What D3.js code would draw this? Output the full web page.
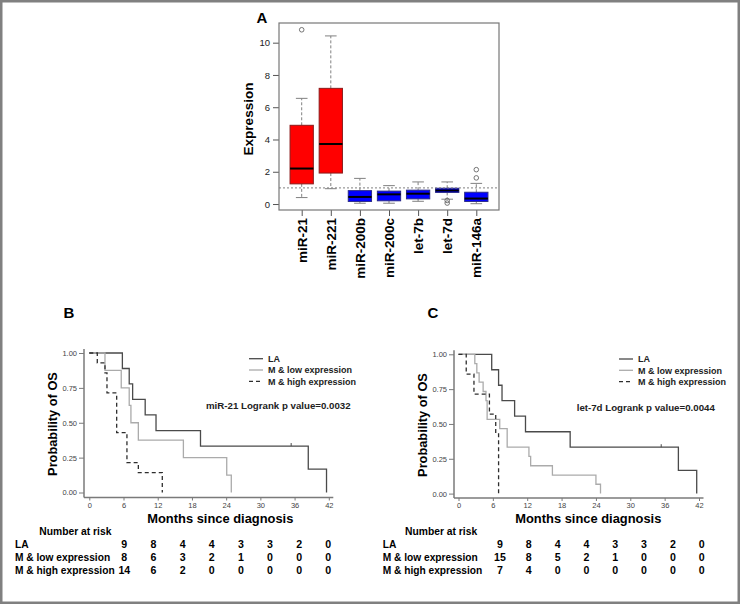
<!DOCTYPE html>
<html><head><meta charset="utf-8">
<script src="https://cdn.jsdelivr.net/npm/d3@7"></script>
<style>
body{margin:0;background:#fff}
svg{display:block}
text{font-family:"Liberation Sans",Arial,Helvetica,sans-serif}
</style>
</head><body>
<svg id="chart" width="740" height="604"></svg>
<script>
// ---------- Panel A data (box plot) ----------
const boxCategories = ["miR-21","miR-221","miR-200b","miR-200c","let-7b","let-7d","miR-146a"];
const boxGroup      = ["up","up","down","down","down","down","down"];
const boxLow    = [0.40, 0.95, 0.05, 0.05, 0.17, 0.30, 0.02];
const boxQ1     = [1.25, 1.92, 0.16, 0.20, 0.32, 0.72, 0.16];
const boxMedian = [2.20, 3.72, 0.44, 0.60, 0.64, 0.84, 0.34];
const boxQ3     = [4.88, 7.17, 0.83, 0.80, 0.86, 0.98, 0.73];
const boxHigh   = [6.55, 10.42, 1.59, 1.14, 1.37, 1.37, 1.28];
const boxOutliers = [[10.8],[],[],[],[],[0.22,0.06],[1.62,2.13]];
const boxYTicks = [0,2,4,6,8,10];
const refLine = 1;

// ---------- Panels B & C data (Kaplan-Meier) ----------
const kmXTicks = [0,6,12,18,24,30,36,42];
const kmYTicks = [0,0.25,0.5,0.75,1];
const seriesNames = ["LA","M & low expression","M & high expression"];

const laTimes = [5.8, 7.0, 7.6, 9.8, 11.7, 19.5, 38.4, 41.6];
const laSurv  = [0.889, 0.778, 0.667, 0.556, 0.444, 0.333, 0.167, 0];
const laCensor = [35.4];
const laCensorSurv = [0.333];

const bLowTimes  = [2.75, 5.6, 7.0, 7.3, 8.6, 16.5, 24.1, 24.9];
const bLowSurv   = [0.875, 0.75, 0.625, 0.5, 0.375, 0.25, 0.125, 0];
const bHighTimes = [1.4, 2.75, 3.1, 4.8, 6.6, 8.6, 12.8];
const bHighSurv  = [0.929, 0.857, 0.714, 0.429, 0.214, 0.143, 0];

const cLowTimes  = [2.85, 3.2, 3.6, 4.3, 4.8, 5.0, 7.2, 8.5, 12.3, 12.6, 16.4, 24.0, 24.8];
const cLowSurv   = [0.933, 0.867, 0.8, 0.733, 0.667, 0.533, 0.467, 0.333, 0.267, 0.2, 0.133, 0.067, 0];
const cHighTimes = [1.35, 2.7, 5.4, 6.5, 7.0];
const cHighSurv  = [0.857, 0.714, 0.571, 0.429, 0];

const bAnnotation = "miR-21 Logrank p value=0.0032";
const cAnnotation = "let-7d Logrank p value=0.0044";

const riskTitle = "Number at risk";
const bRisk = [[9,8,4,4,3,3,2,0],[8,6,3,2,1,0,0,0],[14,6,2,0,0,0,0,0]];
const cRisk = [[9,8,4,4,3,3,2,0],[15,8,5,2,1,0,0,0],[7,4,0,0,0,0,0,0]];

// ---------- drawing ----------
const svg = d3.select("#chart");
svg.append("rect").attr("x",1.25).attr("y",1.25).attr("width",737.5).attr("height",601.5)
  .attr("fill","#fff").attr("stroke","#808080").attr("stroke-width",2.5);

// ===== Panel A =====
(function(){
  const g = svg.append("g");
  const x = d3.scalePoint().domain(boxCategories).range([279,499]).padding(0.78);
  const y = d3.scaleLinear().domain([-0.37, 11.22]).range([210, 23]);
  const bw = x.step()*0.8, cw = bw/2;

  // y axis
  const ya = g.append("g").attr("transform","translate(279,0)")
    .call(d3.axisLeft(y).tickValues(boxYTicks).tickSize(6).tickPadding(3).tickFormat(d3.format("d")));
  ya.select(".domain").remove();
  ya.selectAll("line").attr("stroke","#555");
  ya.selectAll("text").attr("font-size","9.5px").attr("fill","#222");

  // x axis ticks + labels
  const xa = g.append("g").attr("transform","translate(0,210)")
    .call(d3.axisBottom(x).tickSize(6).tickFormat(""));
  xa.select(".domain").remove();
  xa.selectAll("line").attr("stroke","#555");
  boxCategories.forEach(c=>{
    g.append("text").attr("transform",`translate(${x(c)},218) rotate(-90)`)
      .attr("text-anchor","end").attr("dy","0.36em")
      .attr("font-size","13.5px").attr("font-weight","bold").attr("fill","#000").text(c);
  });

  boxCategories.forEach((c,i)=>{
    const cx = x(c);
    const up = boxGroup[i]==="up";
    // whiskers
    [[boxQ1[i],boxLow[i]],[boxQ3[i],boxHigh[i]]].forEach(([a,b])=>{
      g.append("line").attr("x1",cx).attr("x2",cx).attr("y1",y(a)).attr("y2",y(b))
        .attr("stroke","#808080").attr("stroke-width",1).attr("stroke-dasharray","3,2");
    });
    [boxLow[i],boxHigh[i]].forEach(v=>{
      g.append("line").attr("x1",cx-cw/2).attr("x2",cx+cw/2).attr("y1",y(v)).attr("y2",y(v))
        .attr("stroke","#808080").attr("stroke-width",1);
    });
    g.append("rect").attr("x",cx-bw/2).attr("y",y(boxQ3[i]))
      .attr("width",bw).attr("height",y(boxQ1[i])-y(boxQ3[i]))
      .attr("fill",up?"#ff0000":"#0000ff").attr("stroke",up?"#8b1a1a":"#2a2a8a").attr("stroke-width",1);
    g.append("line").attr("x1",cx-bw/2).attr("x2",cx+bw/2)
      .attr("y1",y(boxMedian[i])).attr("y2",y(boxMedian[i]))
      .attr("stroke","#000").attr("stroke-width",2);
    boxOutliers[i].forEach(v=>{
      g.append("circle").attr("cx",cx).attr("cy",y(v)).attr("r",2.3)
        .attr("fill","none").attr("stroke","#666").attr("stroke-width",0.9);
    });
  });

  g.append("line").attr("x1",279).attr("x2",499).attr("y1",y(refLine)).attr("y2",y(refLine))
    .attr("stroke","#808080").attr("stroke-width",1).attr("stroke-dasharray","2,2");

  g.append("rect").attr("x",279).attr("y",23).attr("width",220).attr("height",187)
    .attr("fill","none").attr("stroke","#777").attr("stroke-width",1.2);

  g.append("text").attr("transform","translate(248,119) rotate(-90)")
    .attr("text-anchor","middle").attr("dy","0.36em")
    .attr("font-size","13.5px").attr("font-weight","bold").text("Expression");
  g.append("text").attr("x",262).attr("y",18).attr("dy","0.36em").attr("text-anchor","middle")
    .attr("font-size","15px").attr("font-weight","bold").text("A");
})();

// ===== KM panels =====
function drawKM(o){
  const g = svg.append("g");
  const x = d3.scaleLinear().domain([0,42]).range([o.x0, o.x42]);
  const y = d3.scaleLinear().domain([0,1]).range([o.y0, o.y1]);
  const axisColor = "#7a7a7a";

  // axes lines
  g.append("line").attr("x1",o.ax).attr("x2",o.ax).attr("y1",o.y1-4).attr("y2",o.ay)
    .attr("stroke",axisColor).attr("stroke-width",1.5);
  g.append("line").attr("x1",o.ax).attr("x2",o.x42+4.5).attr("y1",o.ay).attr("y2",o.ay)
    .attr("stroke",axisColor).attr("stroke-width",1.5);

  const ya = g.append("g").attr("transform",`translate(${o.ax},0)`)
    .call(d3.axisLeft(y).tickValues(kmYTicks).tickSize(5).tickPadding(2).tickFormat(d3.format(".2f")));
  ya.select(".domain").remove();
  ya.selectAll("line").attr("stroke",axisColor);
  ya.selectAll("text").attr("font-size","7.5px").attr("fill","#444");

  const xa = g.append("g").attr("transform",`translate(0,${o.ay})`)
    .call(d3.axisBottom(x).tickValues(kmXTicks).tickSize(3).tickPadding(2).tickFormat(d3.format("d")));
  xa.select(".domain").remove();
  xa.selectAll("line").attr("stroke",axisColor);
  xa.selectAll("text").attr("font-size","7.5px").attr("fill","#444");

  const line = d3.line().x(d=>x(d[0])).y(d=>y(d[1])).curve(d3.curveStepAfter);
  const styles = [
    {stroke:"#4a4a4a", dash:null},
    {stroke:"#ababab", dash:null},
    {stroke:"#2e2e2e", dash:"4,3"}
  ];
  o.series.forEach((s,i)=>{
    const pts = [[0,1]].concat(s.t.map((t,j)=>[t,s.s[j]]));
    g.append("path").attr("d",line(pts)).attr("fill","none")
      .attr("stroke",styles[i].stroke).attr("stroke-width",1.3)
      .attr("stroke-dasharray",styles[i].dash);
  });
  // censor marks on LA
  laCensor.forEach((t,j)=>{
    g.append("line").attr("x1",x(t)).attr("x2",x(t)).attr("y1",y(laCensorSurv[j])).attr("y2",y(laCensorSurv[j])-3)
      .attr("stroke",styles[0].stroke).attr("stroke-width",1);
  });

  // legend
  seriesNames.forEach((n,i)=>{
    const ly = o.legY + i*11.3;
    g.append("line").attr("x1",o.legX).attr("x2",o.legX+14).attr("y1",ly).attr("y2",ly)
      .attr("stroke",styles[i].stroke).attr("stroke-width",1.3).attr("stroke-dasharray",styles[i].dash);
    g.append("text").attr("x",o.legX+19).attr("y",ly).attr("dy","0.36em")
      .attr("font-size","9px").attr("font-weight","bold").attr("fill","#222").text(n);
  });
  g.append("text").attr("x",o.annX).attr("y",o.annY).attr("dy","0.36em")
    .attr("font-size","9.7px").attr("font-weight","bold").attr("fill","#222").text(o.ann);

  // titles
  g.append("text").attr("transform",`translate(${o.ylabX},${o.ylabY}) rotate(-90)`)
    .attr("text-anchor","middle").attr("dy","0.36em")
    .attr("font-size","12.8px").attr("font-weight","bold").text("Probability of OS");
  g.append("text").attr("x",o.xlabX).attr("y",518.3).attr("dy","0.36em").attr("text-anchor","middle")
    .attr("font-size","12.9px").attr("font-weight","bold").text("Months since diagnosis");
  g.append("text").attr("x",o.letX).attr("y",313).attr("dy","0.36em").attr("text-anchor","middle")
    .attr("font-size","15px").attr("font-weight","bold").text(o.letter);

  // risk table
  g.append("text").attr("x",o.riskTitleX).attr("y",531.7).attr("dy","0.36em")
    .attr("font-size","10.3px").attr("font-weight","bold").text(riskTitle);
  const rx = d3.scalePoint().domain(kmXTicks).range(o.riskRange);
  seriesNames.forEach((n,i)=>{
    const ry = 544 + i*13;
    g.append("text").attr("x",o.riskLabX).attr("y",ry).attr("dy","0.36em")
      .attr("font-size","10.2px").attr("font-weight","bold").text(n);
    o.risk[i].forEach((v,j)=>{
      g.append("text").attr("x",rx(kmXTicks[j])).attr("y",ry).attr("dy","0.36em")
        .attr("text-anchor","middle").attr("font-size","10.6px").attr("font-weight","bold").text(v);
    });
  });
}

drawKM({
  letter:"B", letX:69,
  x0:89.3, x42:328.8, y0:492.5, y1:353, ax:84, ay:497.5,
  series:[{t:laTimes,s:laSurv},{t:bLowTimes,s:bLowSurv},{t:bHighTimes,s:bHighSurv}],
  legX:249, legY:358.7, annX:206, annY:405.7, ann:bAnnotation,
  ylabX:52.7, ylabY:424, xlabX:220.3,
  riskTitleX:39.3, riskLabX:15, riskRange:[124.3,328.3], risk:bRisk
});
drawKM({
  letter:"C", letX:433,
  x0:458.5, x42:699, y0:493.6, y1:354.3, ax:454, ay:498,
  series:[{t:laTimes,s:laSurv},{t:cLowTimes,s:cLowSurv},{t:cHighTimes,s:cHighSurv}],
  legX:619, legY:359, annX:576.7, annY:407.7, ann:cAnnotation,
  ylabX:422, ylabY:425, xlabX:588.3,
  riskTitleX:405, riskLabX:382.7, riskRange:[500,701.7], risk:cRisk
});
</script>
</body></html>
